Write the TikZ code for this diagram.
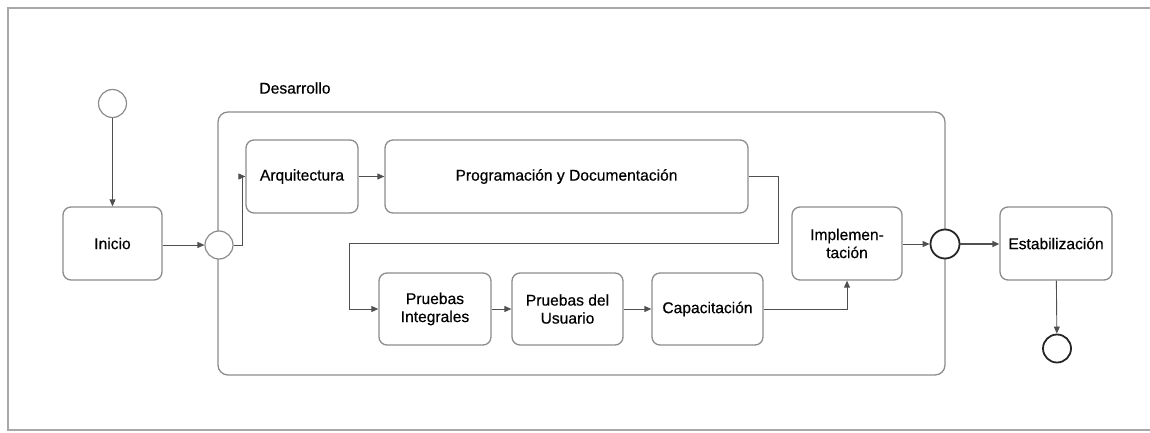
\documentclass[tikz,border=0pt]{standalone}
\usepackage{fontspec}
\setmainfont{Liberation Sans}[FakeBold=0.5]
\usetikzlibrary{arrows.meta}
\definecolor{boxline}{HTML}{8C8C8C}
\definecolor{wire}{HTML}{505050}
\definecolor{framegray}{HTML}{A8A8A8}
\begin{document}
\begin{tikzpicture}[x=1pt,y=-1pt,
  every node/.style={font=\fontsize{15.6}{18}\selectfont, text=black},
  task/.style={draw=boxline, line width=1.3pt, rounded corners=8pt, fill=white,
    align=center, inner sep=0pt},
  evstart/.style={circle, draw=boxline, line width=1.2pt, fill=white,
    minimum size=28pt, inner sep=0pt},
  evend/.style={circle, draw=black!85, line width=1.8pt, fill=white,
    minimum size=28pt, inner sep=0pt},
  flow/.style={draw=wire, line width=0.9pt, -{Triangle[length=7pt,width=6pt]}},
  wireline/.style={draw=wire, line width=0.9pt}]
  \useasboundingbox (0,0) rectangle (1150,433);
  % page frame
  \draw[framegray, line width=1.2pt] (1150,8) -- (8,8) -- (8,430) -- (1150,430);

  % sub-process container
  \node[draw=boxline, line width=1.3pt, rounded corners=10pt,
        minimum width=727pt, minimum height=263pt, inner sep=0pt]
        (dev) at (581.5,243.5) {};
  \node (devlbl) at (295,88) {Desarrollo};

  % events and gateways
  \node[evstart] (start) at (112.5,103.5) {};
  \node[evstart] (gin) at (219,245) {};
  \node[evend, minimum size=29pt] (gout) at (945,244) {};
  \node[evend] (stop) at (1057,348.5) {};

  % tasks
  \node[task, minimum width=99pt, minimum height=73pt] (inicio) at (112.5,243.5) {Inicio};
  \node[task, minimum width=112pt, minimum height=73pt] (arq) at (302,176.5) {Arquitectura};
  \node[task, minimum width=363pt, minimum height=73pt] (prog) at (566.5,176.5) {Programación y Documentación};
  \node[task, minimum width=112pt, minimum height=72pt] (pint) at (435,309) {Pruebas\\Integrales};
  \node[task, minimum width=111pt, minimum height=72pt] (pusr) at (567.5,309) {Pruebas del\\Usuario};
  \node[task, minimum width=111pt, minimum height=72pt] (cap) at (707.5,309) {Capacitación};
  \node[task, minimum width=110pt, minimum height=73pt] (impl) at (847,243.5) {Implemen-\\tación};
  \node[task, minimum width=112pt, minimum height=73pt] (estab) at (1056,243.5) {Estabilización};

  % routing points
  \coordinate (r1) at (778,176.5);
  \coordinate (r2) at (778,243);
  \coordinate (r3) at (349,243);
  \coordinate (r4) at (349,309);

  % sequence flows
  \draw[flow] (start) -- (inicio);
  \draw[flow] (inicio.east |- gin.west) -- (gin.west);
  \draw[flow] (gin.east) -- (242,245) -- (242,176.5) -- (arq.west);
  \draw[flow] (arq) -- (prog);
  \draw[flow] (prog.east) -- (r1) -- (r2) -- (r3) -- (r4) -- (pint.west);
  \draw[flow] (pint) -- (pusr);
  \draw[flow] (pusr) -- (cap);
  \draw[flow] (cap.east) -| (impl.south);
  \draw[flow] (impl.east |- gout.west) -- (gout.west);
  \draw[flow, line width=1.3pt] (gout.east) -- (estab.west |- gout.east);
  \draw[flow] (estab) -- (stop);
\end{tikzpicture}
\end{document}
